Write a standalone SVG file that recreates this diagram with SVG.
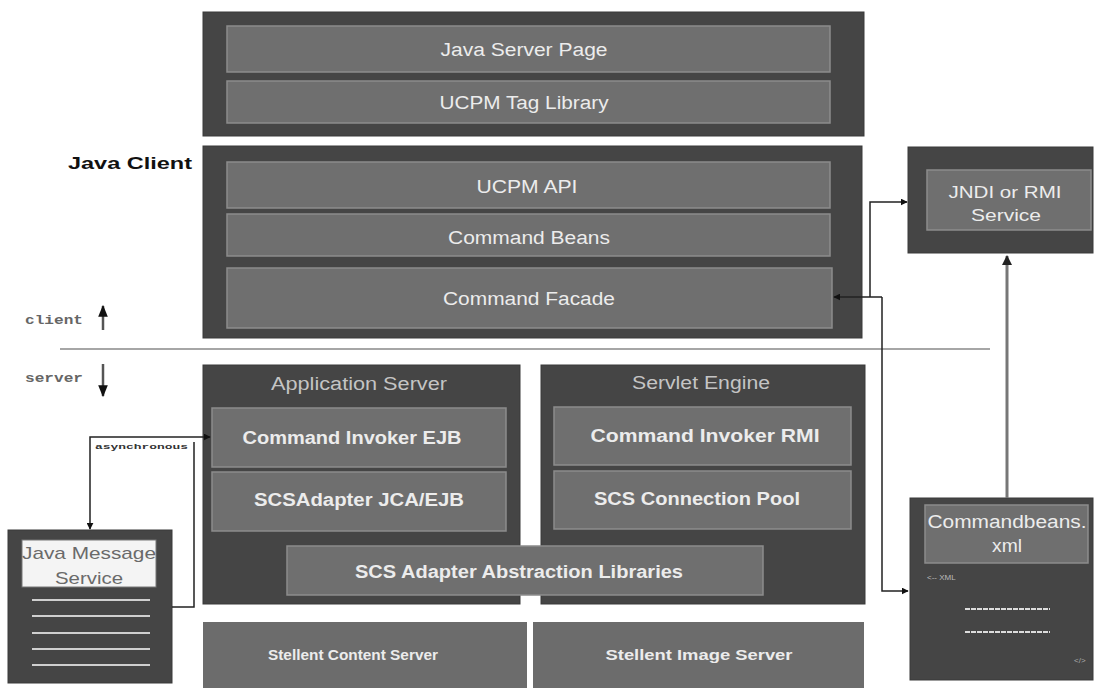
<svg xmlns="http://www.w3.org/2000/svg" width="1097" height="688" viewBox="0 0 1097 688">
<style>
.outer{fill:#454545;stroke:#3a3a3a;stroke-width:1}
.bar{fill:#6f6f6f;stroke:#8c8c8c;stroke-width:1.5}
.plain{fill:#6c6c6c}
.t{font-family:"Liberation Sans",Arial,sans-serif;fill:#ececec;text-anchor:middle;dominant-baseline:central}
.b{font-weight:bold}
.title{fill:#c4c4c4}
.mono{font-family:"Liberation Mono","DejaVu Sans Mono",monospace;fill:#666;font-weight:bold}
.conn{fill:none;stroke:#222;stroke-width:1.5}
.gray{fill:none;stroke:#777;stroke-width:3}
.ln{stroke:#cfcfcf;stroke-width:2}
</style>
<defs>
<marker id="ah" viewBox="0 0 10 10" refX="9" refY="5" markerWidth="7" markerHeight="7" orient="auto" markerUnits="userSpaceOnUse"><path d="M0,0L10,5L0,10z" fill="#111"/></marker>
<marker id="ahg" viewBox="0 0 10 10" refX="9" refY="5" markerWidth="10" markerHeight="10" orient="auto" markerUnits="userSpaceOnUse"><path d="M0,0L10,5L0,10z" fill="#222"/></marker>
<marker id="ahb" viewBox="0 0 10 10" refX="9" refY="5" markerWidth="12" markerHeight="12" orient="auto" markerUnits="userSpaceOnUse"><path d="M0,1L10,5L0,9z" fill="#111"/></marker>
</defs>
<rect width="1097" height="688" fill="#ffffff"/>

<g id="client-server-divider">
<line x1="60" y1="349" x2="990" y2="349" stroke="#888" stroke-width="1.5"/>
<text class="mono" x="25" y="324" font-size="13" textLength="58" lengthAdjust="spacingAndGlyphs">client</text>
<text class="mono" x="25" y="382" font-size="13" textLength="58" lengthAdjust="spacingAndGlyphs">server</text>
<line x1="103" y1="330" x2="103" y2="306" stroke="#555" stroke-width="2.5" marker-end="url(#ahb)"/>
<line x1="103" y1="364" x2="103" y2="396" stroke="#555" stroke-width="2.5" marker-end="url(#ahb)"/>
</g>

<g id="presentation">
<rect class="outer" x="203" y="12" width="661" height="124"/>
<rect class="bar" x="227" y="26" width="603" height="46"/>
<text class="t" x="524" y="50" font-size="18" textLength="167" lengthAdjust="spacingAndGlyphs">Java Server Page</text>
<rect class="bar" x="227" y="81" width="603" height="42"/>
<text class="t" x="524" y="103" font-size="18" textLength="169" lengthAdjust="spacingAndGlyphs">UCPM Tag Library</text>
</g>

<g id="java-client">
<text x="68" y="163" font-family="Liberation Sans,Arial,sans-serif" font-weight="bold" font-size="17" fill="#111" dominant-baseline="central" textLength="124" lengthAdjust="spacingAndGlyphs">Java Client</text>
<rect class="outer" x="203" y="146" width="659" height="192"/>
<rect class="bar" x="227" y="162" width="603" height="46"/>
<text class="t" x="527" y="187" font-size="18" textLength="101" lengthAdjust="spacingAndGlyphs">UCPM API</text>
<rect class="bar" x="227" y="214" width="603" height="42"/>
<text class="t" x="529" y="238" font-size="18" textLength="162" lengthAdjust="spacingAndGlyphs">Command Beans</text>
<rect class="bar" x="227" y="268" width="605" height="60"/>
<text class="t" x="529" y="299" font-size="18" textLength="172" lengthAdjust="spacingAndGlyphs">Command Facade</text>
</g>

<g id="application-server">
<rect class="outer" x="203" y="365" width="317" height="239"/>
<text class="t title" x="359" y="384" font-size="18" textLength="176" lengthAdjust="spacingAndGlyphs">Application Server</text>
<rect class="bar" x="212" y="408" width="294" height="59"/>
<text class="t b" x="352" y="438" font-size="18" textLength="219" lengthAdjust="spacingAndGlyphs">Command Invoker EJB</text>
<rect class="bar" x="212" y="472" width="294" height="59"/>
<text class="t b" x="359" y="500" font-size="18" textLength="210" lengthAdjust="spacingAndGlyphs">SCSAdapter JCA/EJB</text>
</g>

<g id="servlet-engine">
<rect class="outer" x="541" y="365" width="324" height="239"/>
<text class="t title" x="701" y="383" font-size="18" textLength="138" lengthAdjust="spacingAndGlyphs">Servlet Engine</text>
<rect class="bar" x="554" y="407" width="297" height="58"/>
<text class="t b" x="705" y="436" font-size="18" textLength="229" lengthAdjust="spacingAndGlyphs">Command Invoker RMI</text>
<rect class="bar" x="554" y="471" width="297" height="58"/>
<text class="t b" x="697" y="499" font-size="18" textLength="206" lengthAdjust="spacingAndGlyphs">SCS Connection Pool</text>
</g>

<g id="scs-adapter-libraries">
<rect class="bar" x="287" y="546" width="476" height="49"/>
<text class="t b" x="519" y="572" font-size="18" textLength="328" lengthAdjust="spacingAndGlyphs">SCS Adapter Abstraction Libraries</text>
</g>

<g id="stellent-content-server">
<rect class="plain" x="203" y="622" width="324" height="66"/>
<text class="t b" x="353" y="655" font-size="14" textLength="170" lengthAdjust="spacingAndGlyphs">Stellent Content Server</text>
</g>

<g id="stellent-image-server">
<rect class="plain" x="533" y="622" width="331" height="66"/>
<text class="t b" x="699" y="655" font-size="14" textLength="187" lengthAdjust="spacingAndGlyphs">Stellent Image Server</text>
</g>

<g id="java-message-service">
<rect class="outer" x="8" y="530" width="164" height="153"/>
<rect x="22" y="540" width="134" height="47" fill="#f4f4f4" stroke="#777" stroke-width="1"/>
<text class="t" x="89" y="553" font-size="17" style="fill:#6a6a6a" textLength="134" lengthAdjust="spacingAndGlyphs">Java Message</text>
<text class="t" x="89" y="578" font-size="17" style="fill:#6a6a6a" textLength="68" lengthAdjust="spacingAndGlyphs">Service</text>
<line class="ln" x1="32" y1="600" x2="150" y2="600"/>
<line class="ln" x1="32" y1="616" x2="150" y2="616"/>
<line class="ln" x1="32" y1="633" x2="150" y2="633"/>
<line class="ln" x1="32" y1="649" x2="150" y2="649"/>
<line class="ln" x1="32" y1="665" x2="150" y2="665"/>
</g>

<g id="jndi-rmi-service">
<rect class="outer" x="908" y="147" width="185" height="106"/>
<rect class="bar" x="927" y="170" width="164" height="60"/>
<text class="t" x="1005" y="192" font-size="17" textLength="113" lengthAdjust="spacingAndGlyphs">JNDI or RMI</text>
<text class="t" x="1006" y="215" font-size="17" textLength="70" lengthAdjust="spacingAndGlyphs">Service</text>
</g>

<g id="commandbeans-xml">
<rect class="outer" x="910" y="498" width="183" height="182"/>
<rect class="bar" x="925" y="505" width="163" height="58"/>
<text class="t" x="1007" y="522" font-size="18" textLength="159" lengthAdjust="spacingAndGlyphs">Commandbeans.</text>
<text class="t" x="1007" y="546" font-size="18" textLength="30" lengthAdjust="spacingAndGlyphs">xml</text>
<text x="927" y="577" font-family="Liberation Sans,Arial,sans-serif" font-size="8" fill="#bbb" dominant-baseline="central">&lt;-- XML</text>
<line x1="965" y1="609" x2="1050" y2="609" stroke="#ddd" stroke-width="2" stroke-dasharray="5,1"/>
<line x1="965" y1="632" x2="1050" y2="632" stroke="#ddd" stroke-width="2" stroke-dasharray="5,1"/>
<text x="1074" y="660" font-family="Liberation Sans,Arial,sans-serif" font-size="8" fill="#aaa" dominant-baseline="central">&lt;/&gt;</text>
</g>

<g id="connectors">
<path class="conn" d="M882,297 H834" marker-end="url(#ah)"/>
<path class="conn" d="M882,297 V591 H908" marker-end="url(#ah)"/>
<path class="conn" d="M870,297 V202 H907" marker-end="url(#ah)"/>
<path class="gray" d="M1007,498 V256" marker-end="url(#ahg)"/>
<path class="conn" d="M150,437 H210" marker-end="url(#ah)"/>
<path class="conn" d="M150,437 H90 V529" marker-end="url(#ah)"/>
<path class="conn" d="M172,607 H194 V442"/>
<text x="95" y="447" font-family="Liberation Mono,monospace" font-size="7" font-weight="bold" fill="#333" dominant-baseline="central" textLength="93" lengthAdjust="spacingAndGlyphs">asynchronous</text>
</g>
</svg>
